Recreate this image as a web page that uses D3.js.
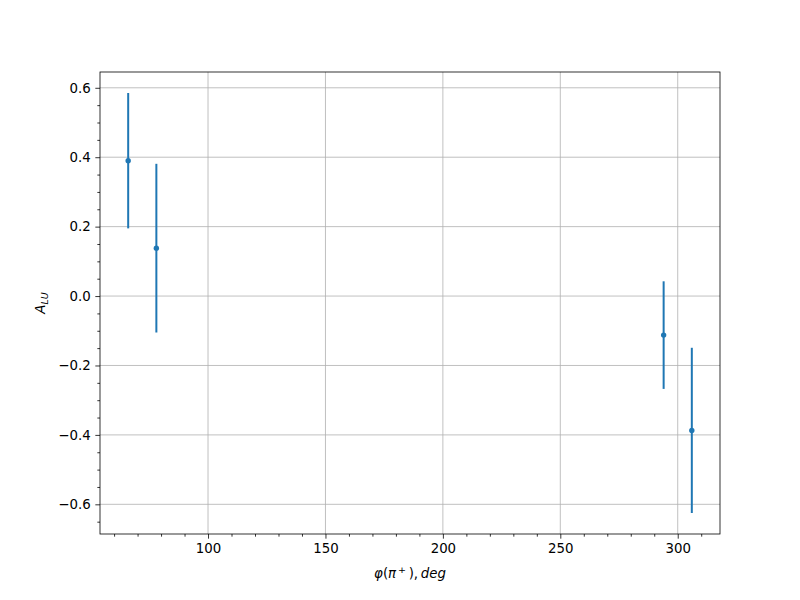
<!DOCTYPE html>
<html><head><meta charset="utf-8">
<script src="https://cdn.jsdelivr.net/npm/d3@7"></script>
<style>body{margin:0;background:#fff}svg{display:block}text{font-family:"DejaVu Sans",sans-serif}</style>
</head><body><svg id="c" width="800" height="600"></svg>
<script>
const phi = [66, 78, 294, 306];
const alu = [0.390, 0.138, -0.1125, -0.387];
const err = [0.195, 0.243, 0.155, 0.238];
const xTicks = [100, 150, 200, 250, 300];
const yTicks = [-0.6, -0.4, -0.2, 0.0, 0.2, 0.4, 0.6];

const svg = d3.select("#c");
const L = 100, R = 720, T = 72, B = 534;
const xmin = d3.min(phi), xmax = d3.max(phi), xm = (xmax - xmin) * 0.05;
const lo = d3.min(alu.map((v, i) => v - err[i])), hi = d3.max(alu.map((v, i) => v + err[i])), ym = (hi - lo) * 0.05;
const x = d3.scaleLinear().domain([xmin - xm, xmax + xm]).range([L, R]);
const y = d3.scaleLinear().domain([lo - ym, hi + ym]).range([B, T]);
const [y0, y1] = y.domain();

// grid
const g = svg.append("g");
g.selectAll(".gx").data(xTicks).join("line").attr("x1", d => x(d)).attr("x2", d => x(d)).attr("y1", T).attr("y2", B)
  .attr("stroke", "#b0b0b0").attr("stroke-width", 0.8);
g.selectAll(".gy").data(yTicks).join("line").attr("y1", d => y(d)).attr("y2", d => y(d)).attr("x1", L).attr("x2", R)
  .attr("stroke", "#b0b0b0").attr("stroke-width", 0.8);

// axes
const fmtY = d => (d < 0 ? "\u2212" : "") + Math.abs(d).toFixed(1);
const xAxis = d3.axisBottom(x).tickValues(xTicks).tickSize(4.67).tickPadding(4.7).tickFormat(d3.format("d"));
const xMinor = d3.axisBottom(x).tickValues(d3.range(60, 320, 10).filter(v => v % 50 !== 0)).tickSize(2.67).tickFormat("");
const yMinorVals = d3.range(-0.65, 0.66, 0.05).map(v => Math.round(v * 100) / 100)
  .filter(v => Math.abs(Math.round(v * 100) % 20) !== 0 && v >= y0 && v <= y1);
const yAxis = d3.axisLeft(y).tickValues(yTicks).tickSize(4.67).tickPadding(4.7).tickFormat(fmtY);
const yMinor = d3.axisLeft(y).tickValues(yMinorVals).tickSize(2.67).tickFormat("");

function style(sel) {
  sel.select(".domain").remove();
  sel.selectAll(".tick line").attr("stroke", "#000").attr("stroke-width", 0.8);
  sel.selectAll(".tick text").attr("fill", "#000").style("font-size", "13.33px").style("font-family", "DejaVu Sans");
}
svg.append("g").attr("transform", `translate(0,${B})`).call(xAxis).call(style);
svg.append("g").attr("transform", `translate(0,${B})`).call(xMinor).call(style);
svg.append("g").attr("transform", `translate(${L},0)`).call(yAxis).call(style);
svg.append("g").attr("transform", `translate(${L},0)`).call(yMinor).call(style);

// frame
svg.append("rect").attr("x", L).attr("y", T).attr("width", R - L).attr("height", B - T)
  .attr("fill", "none").attr("stroke", "#000").attr("stroke-width", 0.8);

// error bars
const col = "#1f77b4";
svg.selectAll(".eb").data(phi).join("line")
  .attr("x1", d => x(d)).attr("x2", d => x(d))
  .attr("y1", (d, i) => y(alu[i] + err[i])).attr("y2", (d, i) => y(alu[i] - err[i]))
  .attr("stroke", col).attr("stroke-width", 2);
svg.selectAll(".pt").data(phi).join("circle")
  .attr("cx", d => x(d)).attr("cy", (d, i) => y(alu[i])).attr("r", 2.7).attr("fill", col);

// labels
const xl = svg.append("text").attr("x", (L + R) / 2).attr("y", 578).attr("text-anchor", "middle")
  .style("font-size", "13.33px").style("font-family", "DejaVu Sans");
xl.append("tspan").attr("font-style", "italic").text("\u03c6");
xl.append("tspan").text("(");
xl.append("tspan").attr("font-style", "italic").text("\u03c0");
xl.append("tspan").attr("dy", -5).style("font-size", "9.5px").text("\u2009+");
xl.append("tspan").attr("dy", 5).text("\u2009),\u2009");
xl.append("tspan").attr("font-style", "italic").text("deg");

const yl = svg.append("text").attr("transform", `translate(45,${(T + B) / 2}) rotate(-90)`).attr("text-anchor", "middle")
  .style("font-size", "13.33px").style("font-family", "DejaVu Sans");
yl.append("tspan").attr("font-style", "italic").text("A");
yl.append("tspan").attr("font-style", "italic").attr("dy", 3).style("font-size", "9.5px").text("LU");
</script></body></html>
